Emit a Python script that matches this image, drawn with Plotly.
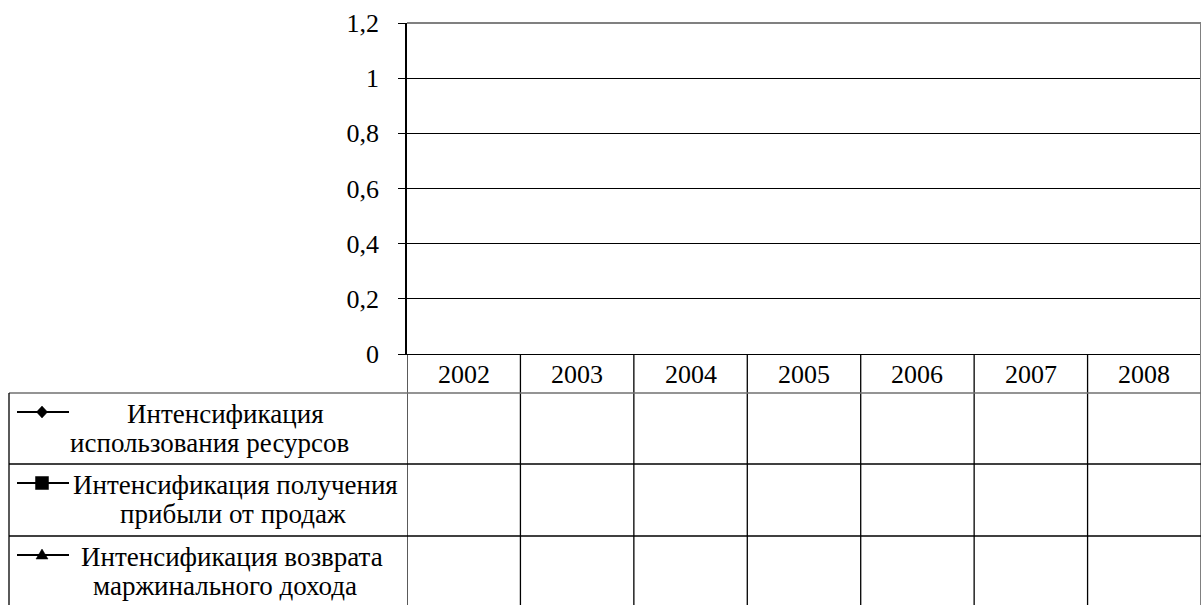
import plotly.graph_objects as go

years = ["2002", "2003", "2004", "2005", "2006", "2007", "2008"]
series_names = [
    "Интенсификация использования ресурсов",
    "Интенсификация получения прибыли от продаж",
    "Интенсификация возврата маржинального дохода",
]
# legend text as wrapped in the data table
series_label_lines = [
    ["Интенсификация", "использования ресурсов"],
    ["Интенсификация получения", "прибыли от продаж"],
    ["Интенсификация возврата", "маржинального дохода"],
]
series_symbols = ["diamond", "square", "triangle-up"]
# The chart's series are empty (no values shown in the table)
values_resources = [None] * 7
values_profit = [None] * 7
values_margin = [None] * 7
series_values = [values_resources, values_profit, values_margin]
y_ticks = [0, 0.2, 0.4, 0.6, 0.8, 1, 1.2]

W, H = 1203, 605
FONT = "Liberation Serif"
FS_AX = 26
FS_LEG = 27

def px(x):
    return x / W

def py(y):
    return 1 - y / H

x0, x1 = 407, 1201
y_top, y_bot = 23, 354
table_rows = [393, 464, 536, 607]
line_centers_x = [[225, 209], [235, 233], [232, 225]]

fig = go.Figure()
for name, sym, vals in zip(series_names, series_symbols, series_values):
    fig.add_trace(go.Scatter(x=years, y=vals, name=name, mode="lines+markers",
                             marker=dict(symbol=sym, color="black"),
                             line=dict(color="black"), showlegend=False))

shapes = []
GREY = "#808080"
# plot area border (top/right) grey
shapes.append(dict(type="line", xref="paper", yref="paper", x0=px(x0), x1=px(x1), y0=py(y_top), y1=py(y_top),
                   line=dict(color=GREY, width=2)))
# vertical table lines at category boundaries
for i in range(len(years) + 1):
    last = i == len(years)
    shapes.append(dict(type="line", xref="x", yref="paper", x0=i - 0.5, x1=i - 0.5,
                       y0=py(y_top) if last else py(y_bot), y1=0,
                       line=dict(color=GREY if last else "black", width=2 if last else 1.3)))
# horizontal table lines
for j, yy in enumerate(table_rows[:-1]):
    shapes.append(dict(type="line", xref="paper", yref="paper", x0=px(9), x1=px(x1), y0=py(yy), y1=py(yy),
                       line=dict(color="#707070" if j == 0 else "black", width=1.5 if j == 0 else 1.3)))
# left border of legend column
shapes.append(dict(type="line", xref="paper", yref="paper", x0=px(9), x1=px(9), y0=py(table_rows[0]), y1=0,
                   line=dict(color="black", width=1.3)))

annotations = []
# year headers
for i, yr in enumerate(years):
    annotations.append(dict(x=i, y=py(374), xref="x", yref="paper", text=yr,
                            showarrow=False, font=dict(family=FONT, size=FS_AX, color="black"),
                            xanchor="center", yanchor="middle"))
# legend rows
for j, (lines, sym) in enumerate(zip(series_label_lines, series_symbols)):
    top = table_rows[j]
    ky = top + 19
    shapes.append(dict(type="line", xref="paper", yref="paper", x0=px(17), x1=px(69), y0=py(ky), y1=py(ky),
                       line=dict(color="black", width=2)))
    cx = 42
    if sym == "diamond":
        s = 5.5
        path = f"M {px(cx-s)} {py(ky)} L {px(cx)} {py(ky-s-0.5)} L {px(cx+s)} {py(ky)} L {px(cx)} {py(ky+s+0.5)} Z"
    elif sym == "square":
        s = 6.5
        path = f"M {px(cx-s)} {py(ky-s)} L {px(cx+s)} {py(ky-s)} L {px(cx+s)} {py(ky+s)} L {px(cx-s)} {py(ky+s)} Z"
    else:
        s = 6
        path = f"M {px(cx-s)} {py(ky+4)} L {px(cx+s)} {py(ky+4)} L {px(cx)} {py(ky-6)} Z"
    shapes.append(dict(type="path", xref="paper", yref="paper", path=path,
                       fillcolor="black", line=dict(color="black", width=0.5)))
    for k, txt in enumerate(lines):
        baseline = top + 30 + 29 * k
        annotations.append(dict(x=px(line_centers_x[j][k]), y=py(baseline - 9), xref="paper", yref="paper",
                                text=txt, showarrow=False, align="center", xanchor="center", yanchor="middle",
                                font=dict(family=FONT, size=FS_LEG, color="black")))

fig.update_layout(
    template="none",
    width=W, height=H, autosize=False,
    margin=dict(l=0, r=0, t=0, b=0, autoexpand=False),
    paper_bgcolor="white", plot_bgcolor="white",
    separators=", ",
    font=dict(family=FONT, size=FS_AX, color="black"),
    shapes=shapes, annotations=annotations,
    showlegend=False,
    xaxis=dict(domain=[px(x0), px(x1)], type="category", categoryorder="array", categoryarray=years,
               range=[-0.5, len(years) - 0.5], showticklabels=False, ticks="", showgrid=False,
               zeroline=False, showline=True, linecolor="black", linewidth=1.3, fixedrange=True,
               automargin=False),
    yaxis=dict(domain=[py(y_bot), py(y_top)], range=[0, 1.2], tickvals=y_ticks,
               ticks="outside", ticklen=7, tickcolor="black", tickwidth=1.3,
               showgrid=True, gridcolor="black", gridwidth=1, zeroline=False,
               showline=True, linecolor="black", linewidth=1.8,
               tickfont=dict(family=FONT, size=FS_AX, color="black"), ticklabelstandoff=14,
               fixedrange=True, automargin=False),
)

fig.write_html(
    "out.html",
    config={"displayModeBar": False},
    post_script="document.body.style.margin='0';document.body.style.overflow='hidden';"
                "document.documentElement.style.overflow='hidden';",
)
